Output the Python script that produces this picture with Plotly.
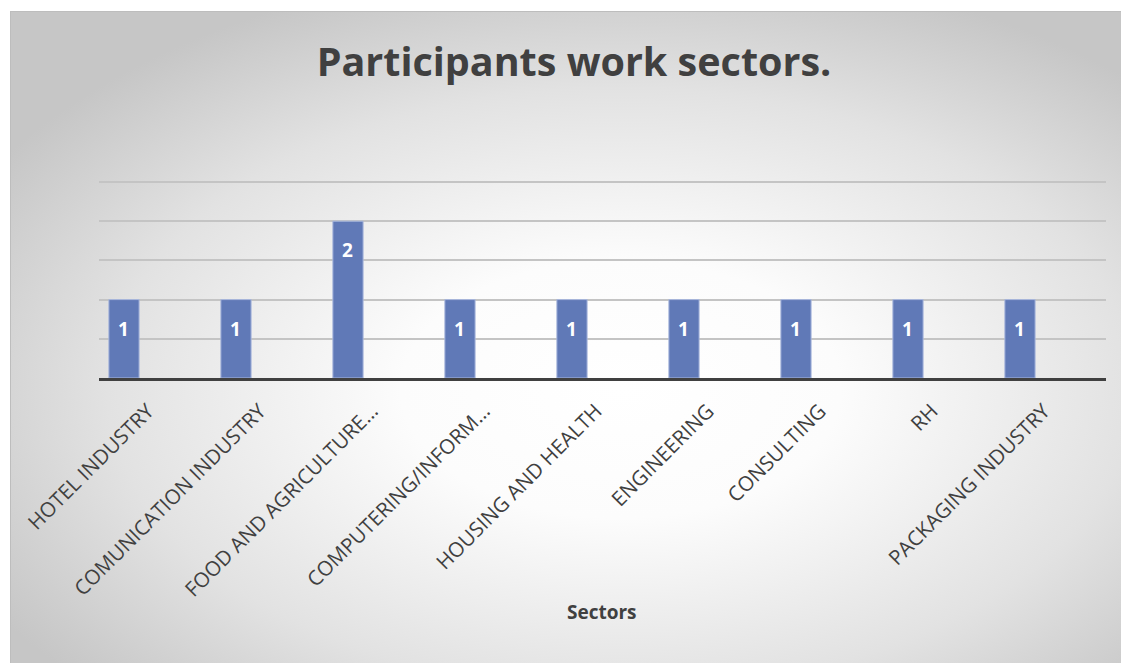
import base64
import plotly.graph_objects as go

categories = ["HOTEL INDUSTRY", "COMUNICATION INDUSTRY", "FOOD AND AGRICULTURE…",
              "COMPUTERING/INFORM…", "HOUSING AND HEALTH", "ENGINEERING",
              "CONSULTING", "RH", "PACKAGING INDUSTRY"]
values = [1, 1, 2, 1, 1, 1, 1, 1, 1]
title_text = "Participants work sectors."
x_title = "Sectors"

W, H = 1121, 663
L, R, T, B = 99, 15, 179, 285
pw, ph = W - L - R, H - T - B
y_top = ph / 78.4

svg = f'''<svg xmlns="http://www.w3.org/2000/svg" width="1111" height="652" viewBox="0 0 1111 652" preserveAspectRatio="none">
<defs><radialGradient id="g" cx="0.55" cy="0.58" r="0.66" gradientUnits="objectBoundingBox">
<stop offset="0" stop-color="#ffffff"/><stop offset="0.3" stop-color="#fcfcfc"/><stop offset="0.7" stop-color="#e2e2e2"/><stop offset="1" stop-color="#c6c6c6"/></radialGradient></defs>
<rect x="0" y="0" width="1111" height="652" fill="url(#g)"/>
<rect x="0.5" y="0.5" width="1112" height="653" fill="none" stroke="#bdbdbd" stroke-width="1"/>
</svg>'''
src = "data:image/svg+xml;base64," + base64.b64encode(svg.encode()).decode()

px0, py0 = 10, 11
img_x = (px0 - L) / pw
img_y = (H - B - py0) / ph
img_sx = (W - px0) / pw
img_sy = (H - py0) / ph

fig = go.Figure()
fig.add_trace(go.Bar(
    x=categories, y=values,
    marker=dict(color="#6079b7", line=dict(color="#a9b8dd", width=1)),
    width=0.27, hoverinfo="skip",
))

annotations = [
    dict(x=c, y=v, xref="x", yref="y", text=f"<b>{v}</b>", showarrow=False,
         yshift=-29, font=dict(family="Open Sans", size=19, color="white"))
    for c, v in zip(categories, values)
]
annotations.append(dict(x=(602 - L) / pw, y=(H - B - 627) / ph, xref="paper", yref="paper",
                        text=f"<b>{x_title}</b>", showarrow=False,
                        font=dict(family="Open Sans", size=19, color="#404040")))

fig.update_layout(
    width=W, height=H,
    margin=dict(l=L, r=R, t=T, b=B, autoexpand=False),
    paper_bgcolor="white", plot_bgcolor="rgba(0,0,0,0)",
    showlegend=False,
    title=dict(text=f"<b>{title_text}</b>", x=574 / W, xanchor="center",
               y=1 - 62 / H, yanchor="middle", yref="container",
               font=dict(family="Open Sans", size=39.5, color="#404040")),
    images=[dict(source=src, xref="paper", yref="paper", x=img_x, y=img_y,
                 sizex=img_sx, sizey=img_sy, xanchor="left", yanchor="top",
                 sizing="stretch", layer="below")],
    annotations=annotations,
    xaxis=dict(showline=True, linecolor="#404040", linewidth=3, ticks="",
               range=[-0.223, 8.768],
               tickangle=-45, tickfont=dict(family="Open Sans", size=20.5, color="#404040"),
               ticklabelshift=24, ticklabelstandoff=10, showgrid=False),
    yaxis=dict(range=[0, y_top], tickvals=[0.5, 1, 1.5, 2, 2.5], showgrid=True,
               gridcolor="#c4c4c4", gridwidth=1.5, showticklabels=False,
               zeroline=False, fixedrange=True),
)
fig.write_html("out.html")
